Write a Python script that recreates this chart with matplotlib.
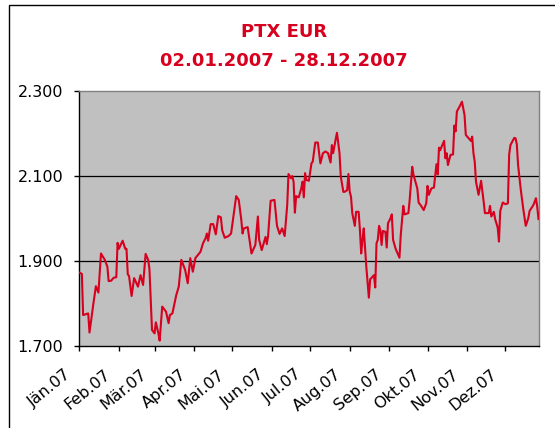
import matplotlib.pyplot as plt
from matplotlib.patches import Rectangle
from matplotlib.transforms import ScaledTranslation
import numpy as np

plt.rcParams['font.family'] = ['DejaVu Sans']

# trading day (day of year 2007) and closing value
day_of_year = [2, 4, 5, 9, 10, 13, 15, 17, 19, 22, 24, 25, 27, 29, 31, 32, 33, 36, 38, 39,
               40, 41, 43, 45, 48, 50, 52, 54, 56, 57, 59, 61, 62, 64, 65, 67, 70, 72, 73, 75,
               78, 80, 82, 85, 87, 89, 91, 93, 97, 99, 101, 102, 103, 105, 107, 109, 111, 113, 114, 116,
               119, 121, 125, 127, 129, 130, 131, 134, 135, 137, 140, 142, 143, 145, 148, 149, 150, 152, 155, 157,
               159, 161, 163, 165, 166, 168, 169, 170, 171, 172, 174, 176, 177, 178, 179, 180, 182, 184, 185, 187,
               189, 191, 193, 195, 197, 199, 200, 201, 203, 204, 206, 207, 209, 210, 212, 213, 214, 215, 216, 218,
               219, 221, 222, 223, 224, 225, 227, 229, 230, 233, 234, 235, 236, 237, 238, 239, 240, 242, 243, 244,
               246, 247, 248, 250, 253, 254, 256, 257, 260, 261, 263, 264, 267, 268, 270, 272, 274, 275, 276, 278,
               280, 282, 283, 284, 285, 286, 288, 289, 290, 291, 293, 295, 296, 297, 298, 300, 302, 304, 305, 307,
               309, 310, 311, 312, 313, 315, 317, 319, 320, 323, 324, 325, 327, 328, 330, 331, 332, 334, 336, 338,
               339, 340, 343, 344, 345, 346, 348, 350, 352, 354, 355, 358, 360, 361, 362]
price = [1.872, 1.869, 1.772, 1.776, 1.731, 1.798, 1.840, 1.825, 1.917, 1.902, 1.886, 1.852, 1.853, 1.860, 1.861, 1.942, 1.928, 1.947, 1.928, 1.928,
         1.868, 1.864, 1.817, 1.859, 1.839, 1.866, 1.843, 1.916, 1.902, 1.880, 1.737, 1.729, 1.755, 1.729, 1.712, 1.792, 1.780, 1.753, 1.772, 1.776,
         1.819, 1.839, 1.902, 1.878, 1.847, 1.906, 1.874, 1.906, 1.921, 1.941, 1.953, 1.964, 1.947, 1.986, 1.986, 1.962, 2.005, 2.002, 1.972, 1.954,
         1.958, 1.964, 2.052, 2.043, 1.996, 1.964, 1.976, 1.979, 1.958, 1.917, 1.937, 2.004, 1.949, 1.925, 1.956, 1.939, 1.958, 2.041, 2.043, 1.982,
         1.963, 1.976, 1.958, 2.031, 2.104, 2.094, 2.099, 2.086, 2.013, 2.052, 2.049, 2.070, 2.086, 2.049, 2.106, 2.090, 2.088, 2.129, 2.133, 2.178,
         2.178, 2.129, 2.153, 2.157, 2.153, 2.131, 2.172, 2.153, 2.186, 2.201, 2.153, 2.098, 2.062, 2.062, 2.066, 2.104, 2.062, 2.051, 2.012, 1.982,
         2.015, 2.015, 1.972, 1.917, 1.949, 1.976, 1.886, 1.813, 1.856, 1.866, 1.837, 1.941, 1.949, 1.982, 1.972, 1.937, 1.970, 1.968, 1.931, 1.988,
         2.000, 2.009, 1.949, 1.928, 1.907, 1.960, 2.029, 2.009, 2.012, 2.043, 2.121, 2.102, 2.070, 2.037, 2.029, 2.019, 2.035, 2.076, 2.055, 2.070,
         2.072, 2.127, 2.103, 2.166, 2.160, 2.168, 2.182, 2.141, 2.153, 2.125, 2.149, 2.150, 2.218, 2.204, 2.251, 2.262, 2.274, 2.243, 2.196, 2.189,
         2.182, 2.192, 2.153, 2.133, 2.086, 2.055, 2.088, 2.039, 2.012, 2.012, 2.029, 2.004, 2.015, 1.998, 1.978, 1.945, 2.017, 2.037, 2.033, 2.035,
         2.150, 2.172, 2.189, 2.188, 2.174, 2.125, 2.070, 2.023, 1.982, 2.000, 2.017, 2.031, 2.047, 2.027, 1.998]

month_ticks = [2, 33, 61, 92, 122, 153, 183, 214, 245, 275, 306, 336]
month_labels = ["Jän.07", "Feb.07", "Mär.07", "Apr.07", "Mai.07", "Jun.07",
                "Jul.07", "Aug.07", "Sep.07", "Okt.07", "Nov.07", "Dez.07"]
y_ticks = [1.7, 1.9, 2.1, 2.3]
y_labels = ["1.700", "1.900", "2.100", "2.300"]

red = "#D7001E"
W, H = 555, 428

fig = plt.figure(figsize=(W / 100, H / 100), dpi=100)
ax = fig.add_axes([79.3 / W, 1 - 345.7 / H, (538.5 - 79.3) / W, (345.7 - 90.7) / H])
ax.set_facecolor("#C0C0C0")

for g in [1.9, 2.1]:
    ax.axhline(g, color="black", lw=0.9, zorder=1)

ax.plot(day_of_year, price, color=red, lw=1.5, zorder=3)

ax.set_xlim(2, 362)
ax.set_ylim(1.7, 2.3)
ax.set_yticks(y_ticks)
ax.set_yticklabels(y_labels, fontsize=11.5)
ax.set_xticks(month_ticks)
ax.set_xticklabels(month_labels, fontsize=11.5, rotation=39, ha="right", va="center",
                   rotation_mode="anchor")
ax.tick_params(axis="both", direction="out", length=3.6, width=1, color="black")
ax.tick_params(axis="y", pad=8)
ax.tick_params(axis="x", pad=2)

# shift the slanted month labels left/down like the original
shift = ScaledTranslation(-10 / 100, -19 / 100, fig.dpi_scale_trans)
for lbl in ax.get_xticklabels():
    lbl.set_transform(lbl.get_transform() + shift)

ax.spines["left"].set_color("black")
ax.spines["bottom"].set_color("black")
ax.spines["top"].set_color("#808080")
ax.spines["right"].set_color("#808080")
for s in ax.spines.values():
    s.set_linewidth(1)

fig.text(284 / W, 1 - 32 / H, "PTX EUR", color=red, fontsize=13, fontweight="bold", ha="center", va="center")
fig.text(284 / W, 1 - 61 / H, "02.01.2007 - 28.12.2007", color=red, fontsize=13, fontweight="bold",
         ha="center", va="center")

# outer chart frame
fig.patches.append(Rectangle((8.5 / W, -0.1), 1.2, 1.1 - 5.5 / H, transform=fig.transFigure,
                             fill=False, edgecolor="black", lw=1))

fig.savefig("out.png", dpi=100)
